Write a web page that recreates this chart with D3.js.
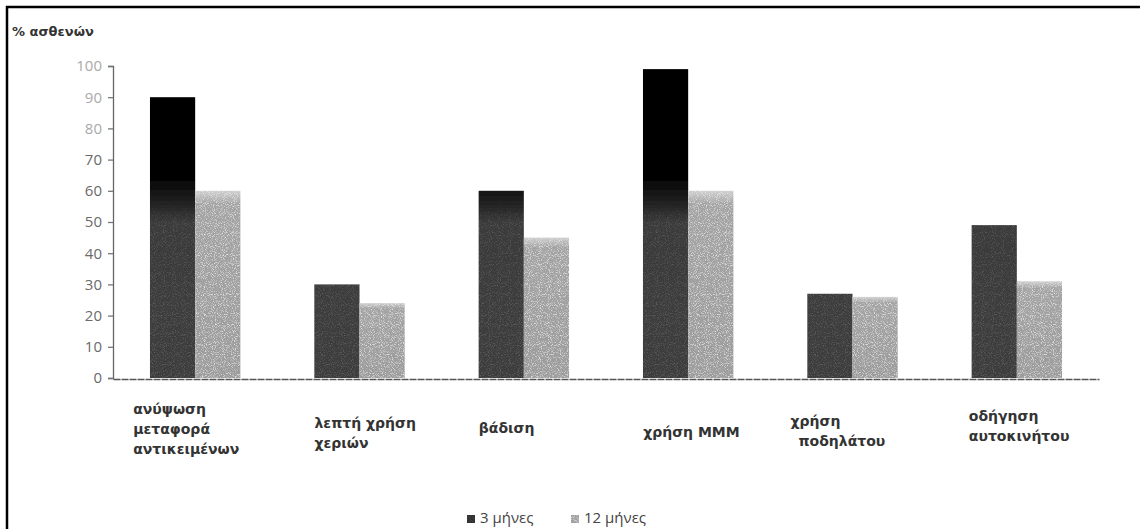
<!DOCTYPE html>
<html>
<head>
<meta charset="utf-8">
<script src="https://cdn.jsdelivr.net/npm/d3@7"></script>
<style>
  html, body { margin: 0; padding: 0; background: #fff; }
  svg { display: block; }
  text { font-family: "DejaVu Sans", "Open Sans", sans-serif; }
</style>
</head>
<body>
<svg id="chart" width="1140" height="529"></svg>
<script>
// Activities whose resumption was measured (multi-line labels)
const categories = [
  ["ανύψωση", "μεταφορά", "αντικειμένων"],
  ["λεπτή χρήση", "χεριών"],
  ["βάδιση"],
  ["χρήση ΜΜΜ"],
  ["χρήση", "ποδηλάτου"],
  ["οδήγηση", "αυτοκινήτου"]
];
const seriesNames = ["3 μήνες", "12 μήνες"];
const months3 = [90, 30, 60, 99, 27, 49];
const months12 = [60, 24, 45, 60, 26, 31];
const yTicks = [0, 10, 20, 30, 40, 50, 60, 70, 80, 90, 100];
const yTitle = "% ασθενών";

const svg = d3.select("#chart");
const W = 1140, H = 529;

// Outer frame: top and left edges only
svg.append("line").attr("x1", 6).attr("x2", W).attr("y1", 7).attr("y2", 7)
  .attr("stroke", "#000").attr("stroke-width", 2.5);
svg.append("line").attr("x1", 7).attr("x2", 7).attr("y1", 6).attr("y2", H)
  .attr("stroke", "#000").attr("stroke-width", 2.5);

const plot = { left: 113, right: 1099, top: 66, bottom: 378 };

const x = d3.scaleBand()
  .domain(d3.range(categories.length))
  .range([plot.left, plot.right])
  .paddingInner(0.45)
  .paddingOuter(0.225);
const xSub = d3.scaleBand().domain([0, 1]).range([0, x.bandwidth()]);
const y = d3.scaleLinear().domain([0, 100]).range([plot.bottom, plot.top]);

const defs = svg.append("defs");

// Print-like grain: sparse light specks over the fills
const grain = defs.append("filter").attr("id", "grain")
  .attr("x", "0").attr("y", "0").attr("width", "100%").attr("height", "100%");
grain.append("feTurbulence").attr("type", "fractalNoise")
  .attr("baseFrequency", 1.1).attr("numOctaves", 1).attr("seed", 5).attr("result", "noise");
grain.append("feColorMatrix").attr("in", "noise").attr("type", "matrix")
  .attr("values", "0 0 0 0 0.8  0 0 0 0 0.8  0 0 0 0 0.8  3.4 0 0 0 -1.7")
  .attr("result", "specks");
// Specks show mostly on the grey parts: weight them by the fill's lightness
grain.append("feColorMatrix").attr("in", "SourceGraphic").attr("type", "matrix")
  .attr("values", "0 0 0 0 0  0 0 0 0 0  0 0 0 0 0  3 0 0 0 -0.05")
  .attr("result", "lightMask");
grain.append("feComposite").attr("in", "specks").attr("in2", "lightMask")
  .attr("operator", "in").attr("result", "speckIn");
grain.append("feComposite").attr("in", "speckIn").attr("in2", "SourceGraphic")
  .attr("operator", "in").attr("result", "speckClip");
grain.append("feMerge").call(m => {
  m.append("feMergeNode").attr("in", "SourceGraphic");
  m.append("feMergeNode").attr("in", "speckClip");
});

// Dark series: black above ~60%, dark grey below
const gDark = defs.append("linearGradient").attr("id", "gradDark")
  .attr("gradientUnits", "userSpaceOnUse")
  .attr("x1", 0).attr("x2", 0).attr("y1", y(100)).attr("y2", y(0));
[[0, "#000"], [0.36, "#030303"], [0.5, "#3a3a3a"], [1, "#3e3e3e"]].forEach(([o, c]) =>
  gDark.append("stop").attr("offset", o).attr("stop-color", c));

// Light series: mid grey, fading at the upper edge
const gLight = defs.append("linearGradient").attr("id", "gradLight")
  .attr("gradientUnits", "objectBoundingBox")
  .attr("x1", 0).attr("x2", 0).attr("y1", 0).attr("y2", 1);
[[0, "#d0d0d0"], [0.07, "#a4a4a4"], [1, "#9c9c9c"]].forEach(([o, c]) =>
  gLight.append("stop").attr("offset", o).attr("stop-color", c));

// Y axis
const yAxis = d3.axisLeft(y).tickValues(yTicks).tickSize(5).tickPadding(6)
  .tickFormat(d3.format("d"));
const yG = svg.append("g").attr("transform", `translate(${plot.left},0)`).call(yAxis);
yG.select(".domain").attr("stroke", "#666").attr("stroke-width", 1.3);
yG.selectAll(".tick line").attr("stroke", "#777").attr("stroke-width", 1.3);
yG.selectAll(".tick text")
  .attr("fill", (d) => d >= 80 ? "#aaa" : "#6a6a6a")
  .attr("font-size", 15)
  .style("font-family", "'Open Sans', sans-serif");

// Y title
svg.append("text").attr("x", 12).attr("y", 36)
  .attr("font-size", 13).attr("font-weight", "bold").attr("fill", "#333")
  .text(yTitle);

// Bars
const groups = svg.append("g").selectAll("g")
  .data(categories.map((c, i) => ({ i, vals: [months3[i], months12[i]] })))
  .join("g")
  .attr("transform", d => `translate(${x(d.i)},0)`);

groups.selectAll("rect")
  .data(d => d.vals.map((v, s) => ({ v, s })))
  .join("rect")
  .attr("x", d => xSub(d.s))
  .attr("width", xSub.bandwidth())
  .attr("y", d => y(d.v))
  .attr("height", d => y(0) - y(d.v))
  .attr("fill", d => d.s === 0 ? "url(#gradDark)" : "url(#gradLight)")
  .attr("filter", "url(#grain)");

// X axis baseline
const xAxis = d3.axisBottom(x).tickSize(0).tickFormat("");
const xG = svg.append("g").attr("transform", `translate(0,${plot.bottom + 1})`).call(xAxis);
xG.select(".domain").attr("stroke", "#555").attr("stroke-width", 1.5).attr("stroke-dasharray", "7,1");

// Category labels, placed per group
const labelPos = [
  { dx: -62, y: 414 },
  { dx: -45, y: 428 },
  { dx: -45, y: 433 },
  { dx: -45, y: 437 },
  { dx: -62, y: 426 },
  { dx: -48, y: 421 }
];
categories.forEach((lines, i) => {
  const cx = x(i) + x.bandwidth() / 2;
  const t = svg.append("text")
    .attr("x", cx + labelPos[i].dx)
    .attr("y", labelPos[i].y)
    .attr("font-size", 14).attr("font-weight", "bold").attr("fill", "#333");
  lines.forEach((ln, k) => {
    t.append("tspan")
      .attr("x", cx + labelPos[i].dx + (i === 4 && k === 1 ? 8 : 0))
      .attr("dy", k === 0 ? 0 : 20)
      .text(ln);
  });
});

// Legend
const legend = svg.append("g").attr("transform", "translate(467,523)");
const legendFill = ["#333", "#a0a0a0"];
const legendX = [0, 104];
seriesNames.forEach((name, s) => {
  const g = legend.append("g").attr("transform", `translate(${legendX[s]},0)`);
  g.append("rect").attr("x", 0).attr("y", -8).attr("width", 8).attr("height", 8)
    .attr("fill", legendFill[s]).attr("filter", "url(#grain)");
  g.append("text").attr("x", 13).attr("y", 0)
    .attr("font-size", 15).attr("fill", "#444")
    .style("font-family", "'Open Sans', sans-serif").text(name);
});
</script>
</body>
</html>
